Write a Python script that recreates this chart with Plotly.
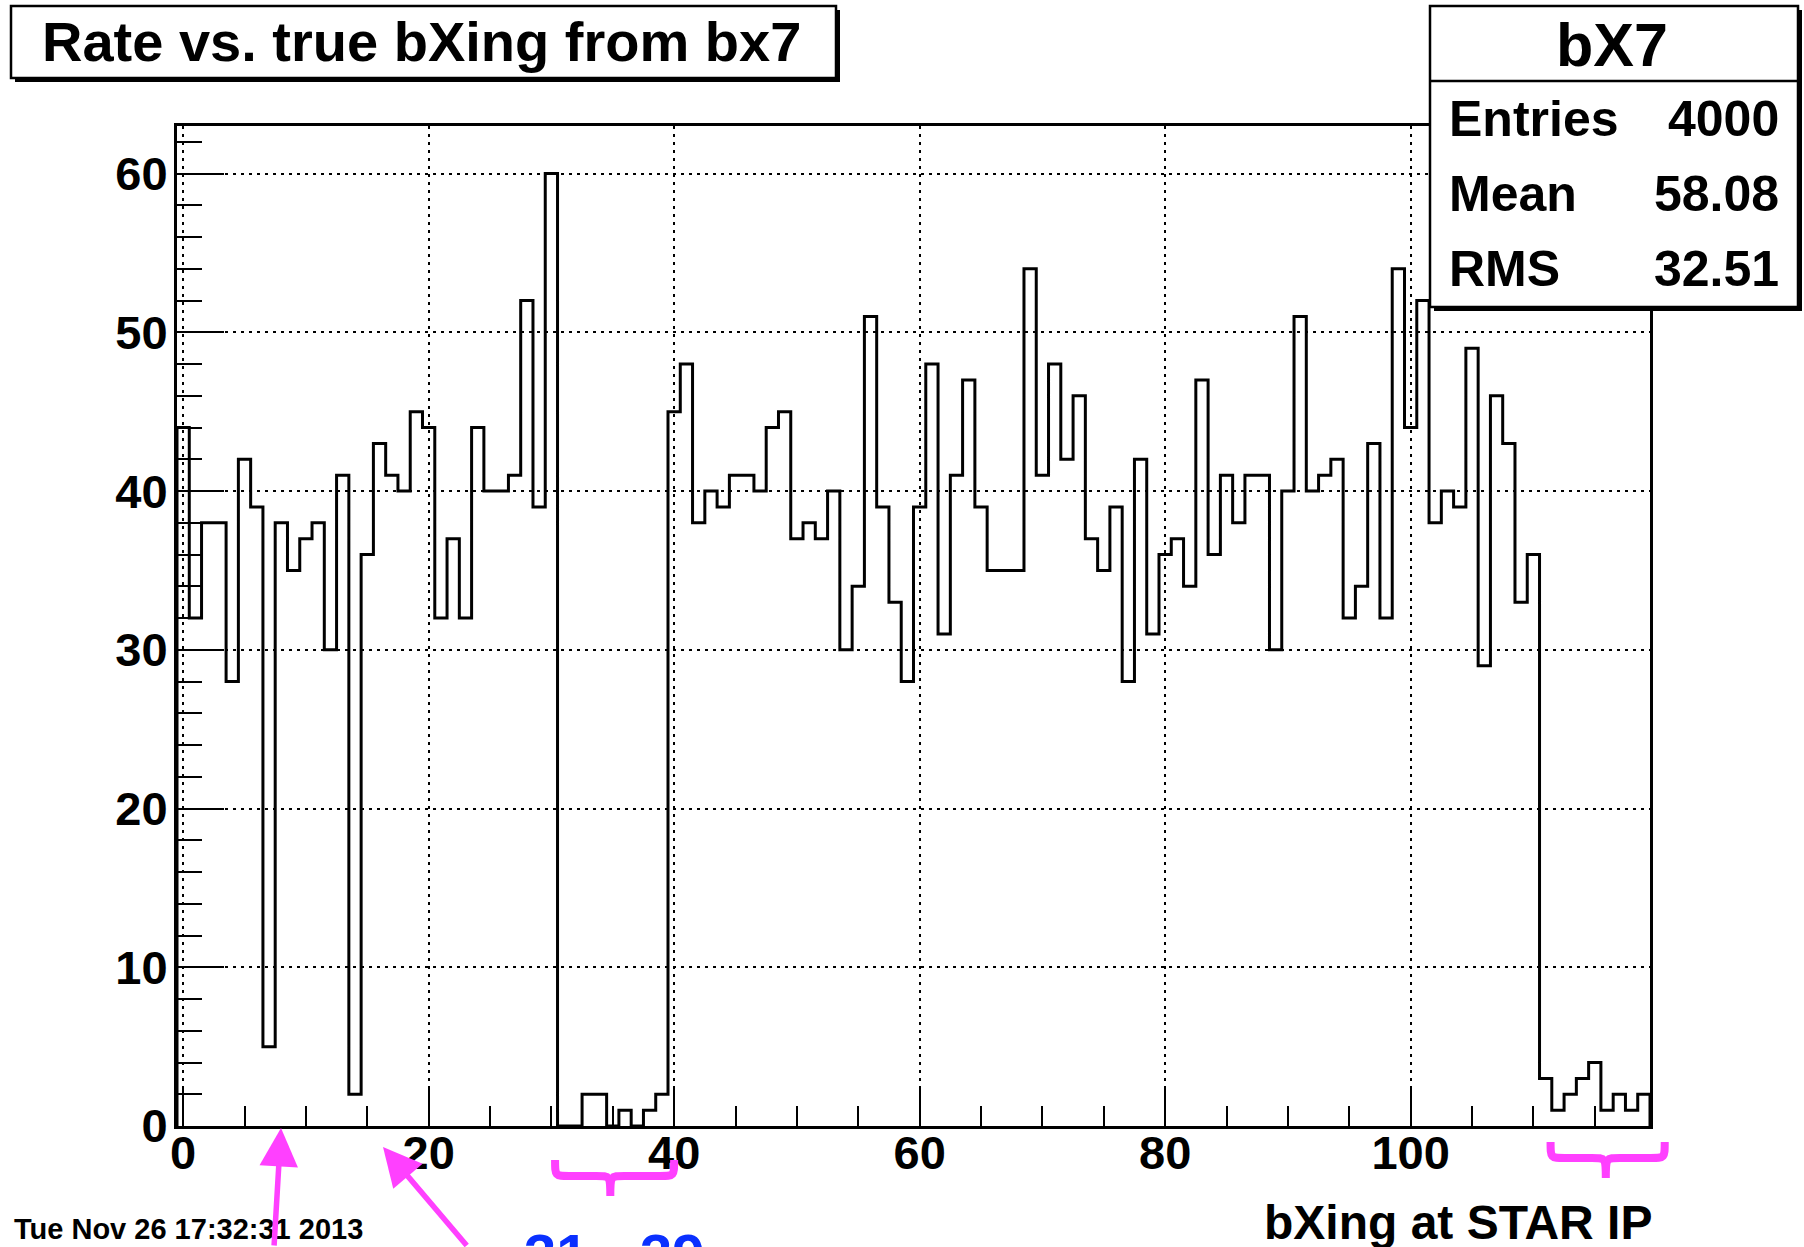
import plotly.graph_objects as go

# ---------------- data ----------------
bxing = list(range(120))  # bin centres (bXing at STAR IP)
counts = [44, 32, 38, 38, 28, 42, 39, 5, 38, 35,
          37, 38, 30, 41, 2, 36, 43, 41, 40, 45,
          44, 32, 37, 32, 44, 40, 40, 41, 52, 39,
          60, 0, 0, 2, 2, 0, 1, 0, 1, 2,
          45, 48, 38, 40, 39, 41, 41, 40, 44, 45,
          37, 38, 37, 40, 30, 34, 51, 39, 33, 28,
          39, 48, 31, 41, 47, 39, 35, 35, 35, 54,
          41, 48, 42, 46, 37, 35, 39, 28, 42, 31,
          36, 37, 34, 47, 36, 41, 38, 41, 41, 30,
          40, 51, 40, 41, 42, 32, 34, 43, 32, 54,
          44, 52, 38, 40, 39, 49, 29, 46, 43, 33,
          36, 3, 1, 2, 3, 4, 1, 2, 1, 2]
title_text = "Rate vs. true bXing from bx7"
hist_name = "bX7"
stat_labels = ["Entries", "Mean", "RMS"]
stat_values = ["4000", "58.08", "32.51"]
x_title = "bXing at STAR IP"
date_text = "Tue Nov 26 17:32:31 2013"
gap_label = "31 - 39"

# ---------------- geometry (pixels) ----------------
W, H = 1804, 1247
L, R, T, B = 177, 1650, 126, 1126
XMIN, XMAX, YMIN, YMAX = -0.5, 119.5, 0, 63


def px(xp):
    return (xp - L) / (R - L)


def py(yp):
    return (B - yp) / (B - T)


def dx(xv):  # data x -> pixel
    return L + (xv - XMIN) / (XMAX - XMIN) * (R - L)


FONT = "Liberation Sans"
MAG = "#ff40ff"
BLUE = "#0a30ff"

# histogram outline (ROOT style step)
edges = [c - 0.5 for c in bxing] + [bxing[-1] + 0.5]
xs = [edges[0]] + edges
ys = [0] + counts + [0]

fig = go.Figure()
fig.add_trace(go.Scatter(x=xs, y=ys, mode="lines",
                         line=dict(color="black", width=3, shape="hv"),
                         hoverinfo="skip", showlegend=False))

tickfont = dict(family=FONT, size=47, color="black", weight="bold")

shapes = []
annotations = []


def box(x0, y0, x1, y1, sh=4):
    shapes.append(dict(type="rect", xref="paper", yref="paper",
                       x0=px(x0 + sh), x1=px(x1 + sh), y0=py(y0 + sh), y1=py(y1 + sh),
                       fillcolor="black", line=dict(width=0), layer="above"))
    shapes.append(dict(type="rect", xref="paper", yref="paper",
                       x0=px(x0), x1=px(x1), y0=py(y0), y1=py(y1),
                       fillcolor="white", line=dict(color="black", width=2.5), layer="above"))


# title box
box(11, 6, 836, 78)
annotations.append(dict(text=title_text, xref="paper", yref="paper",
                        x=px(421), y=py(41), xanchor="center", yanchor="middle",
                        showarrow=False,
                        font=dict(family=FONT, size=56, color="black", weight="bold")))

# stats box
box(1430, 6, 1798, 307)
shapes.append(dict(type="line", xref="paper", yref="paper",
                   x0=px(1430), x1=px(1798), y0=py(81), y1=py(81),
                   line=dict(color="black", width=2.5), layer="above"))
annotations.append(dict(text=hist_name, xref="paper", yref="paper",
                        x=px(1612), y=py(45), xanchor="center", yanchor="middle",
                        showarrow=False,
                        font=dict(family=FONT, size=61, color="black", weight="bold")))
for i, (lab, val) in enumerate(zip(stat_labels, stat_values)):
    yc = 119 + i * 75
    annotations.append(dict(text=lab, xref="paper", yref="paper",
                            x=px(1447), y=py(yc), xanchor="left", yanchor="middle",
                            showarrow=False,
                            font=dict(family=FONT, size=50, color="black", weight="bold")))
    annotations.append(dict(text=val, xref="paper", yref="paper",
                            x=px(1781), y=py(yc), xanchor="right", yanchor="middle",
                            showarrow=False,
                            font=dict(family=FONT, size=50, color="black", weight="bold")))

# axis title, date
annotations.append(dict(text=x_title, xref="paper", yref="paper",
                        x=px(1654), y=py(1222), xanchor="right", yanchor="middle",
                        showarrow=False,
                        font=dict(family=FONT, size=48, color="black", weight="bold")))
annotations.append(dict(text=date_text, xref="paper", yref="paper",
                        x=px(12), y=py(1229), xanchor="left", yanchor="middle",
                        showarrow=False,
                        font=dict(family=FONT, size=29, color="black", weight="bold")))

# magenta arrows
for tip, off in [((281, 1128), (-7, 140)), ((383, 1147), (85, 130))]:
    annotations.append(dict(text="", xref="paper", yref="paper",
                            x=px(tip[0]), y=py(tip[1]), ax=off[0], ay=off[1],
                            showarrow=True, arrowhead=2, arrowsize=1.4, arrowwidth=5.5,
                            arrowcolor=MAG, standoff=0))


# magenta braces spanning bin ranges
def brace(xl, xr, xc, ytop, ybar, ytip, r=14):
    pts = (f"M{px(xl)},{py(ytop)} "
           f"C{px(xl)},{py(ybar)} {px(xl)},{py(ybar)} {px(xl + r)},{py(ybar)} "
           f"L{px(xc - r)},{py(ybar)} "
           f"C{px(xc)},{py(ybar)} {px(xc)},{py(ybar)} {px(xc)},{py(ytip)} "
           f"C{px(xc)},{py(ybar)} {px(xc)},{py(ybar)} {px(xc + r)},{py(ybar)} "
           f"L{px(xr - r)},{py(ybar)} "
           f"C{px(xr)},{py(ybar)} {px(xr)},{py(ybar)} {px(xr)},{py(ytop)}")
    shapes.append(dict(type="path", xref="paper", yref="paper", path=pts,
                       line=dict(color=MAG, width=8), layer="above"))


brace(dx(30.3), dx(40.0), dx(34.8), 1160, 1176, 1196)
brace(dx(111.4), dx(120.7), dx(115.9), 1142, 1158, 1178)

annotations.append(dict(text=gap_label, xref="paper", yref="paper",
                        x=px(522), y=py(1220), xanchor="left", yanchor="top",
                        showarrow=False,
                        font=dict(family=FONT, size=58, color=BLUE, weight="bold")))

fig.update_layout(
    width=W, height=H, autosize=False,
    margin=dict(l=L, r=W - R, t=T, b=H - B, pad=0, autoexpand=False),
    paper_bgcolor="white", plot_bgcolor="white",
    showlegend=False,
    xaxis=dict(range=[XMIN, XMAX], tickmode="linear", tick0=0, dtick=20,
               ticks="inside", ticklen=40, tickwidth=2, tickcolor="black",
               showgrid=True, gridcolor="black", gridwidth=2, griddash="3px,5px",
               showline=True, linewidth=3, linecolor="black", mirror=True,
               zeroline=False, tickfont=tickfont, ticklabelstandoff=-16,
               minor=dict(tick0=0, dtick=5, ticks="inside", ticklen=20, tickwidth=2,
                          tickcolor="black", showgrid=False)),
    yaxis=dict(range=[YMIN, YMAX], tickmode="linear", tick0=0, dtick=10,
               ticks="inside", ticklen=47, tickwidth=2, tickcolor="black",
               showgrid=True, gridcolor="black", gridwidth=2, griddash="3px,5px",
               showline=True, linewidth=3, linecolor="black", mirror=True,
               zeroline=False, tickfont=tickfont, ticklabelstandoff=-3,
               minor=dict(tick0=0, dtick=2, ticks="inside", ticklen=25, tickwidth=2,
                          tickcolor="black", showgrid=False)),
    yaxis2=dict(range=[YMIN, YMAX], overlaying="y", side="left", anchor="x",
                tickmode="linear", tick0=0, dtick=0.5, ticks="inside", ticklen=8,
                tickwidth=1.5, tickcolor="black", showticklabels=False,
                showgrid=False, showline=False, zeroline=False),
    shapes=shapes, annotations=annotations,
)

fig.write_html("out.html", config={"displayModeBar": False},
               post_script="document.body.style.margin='0';document.body.style.overflow='hidden';")
